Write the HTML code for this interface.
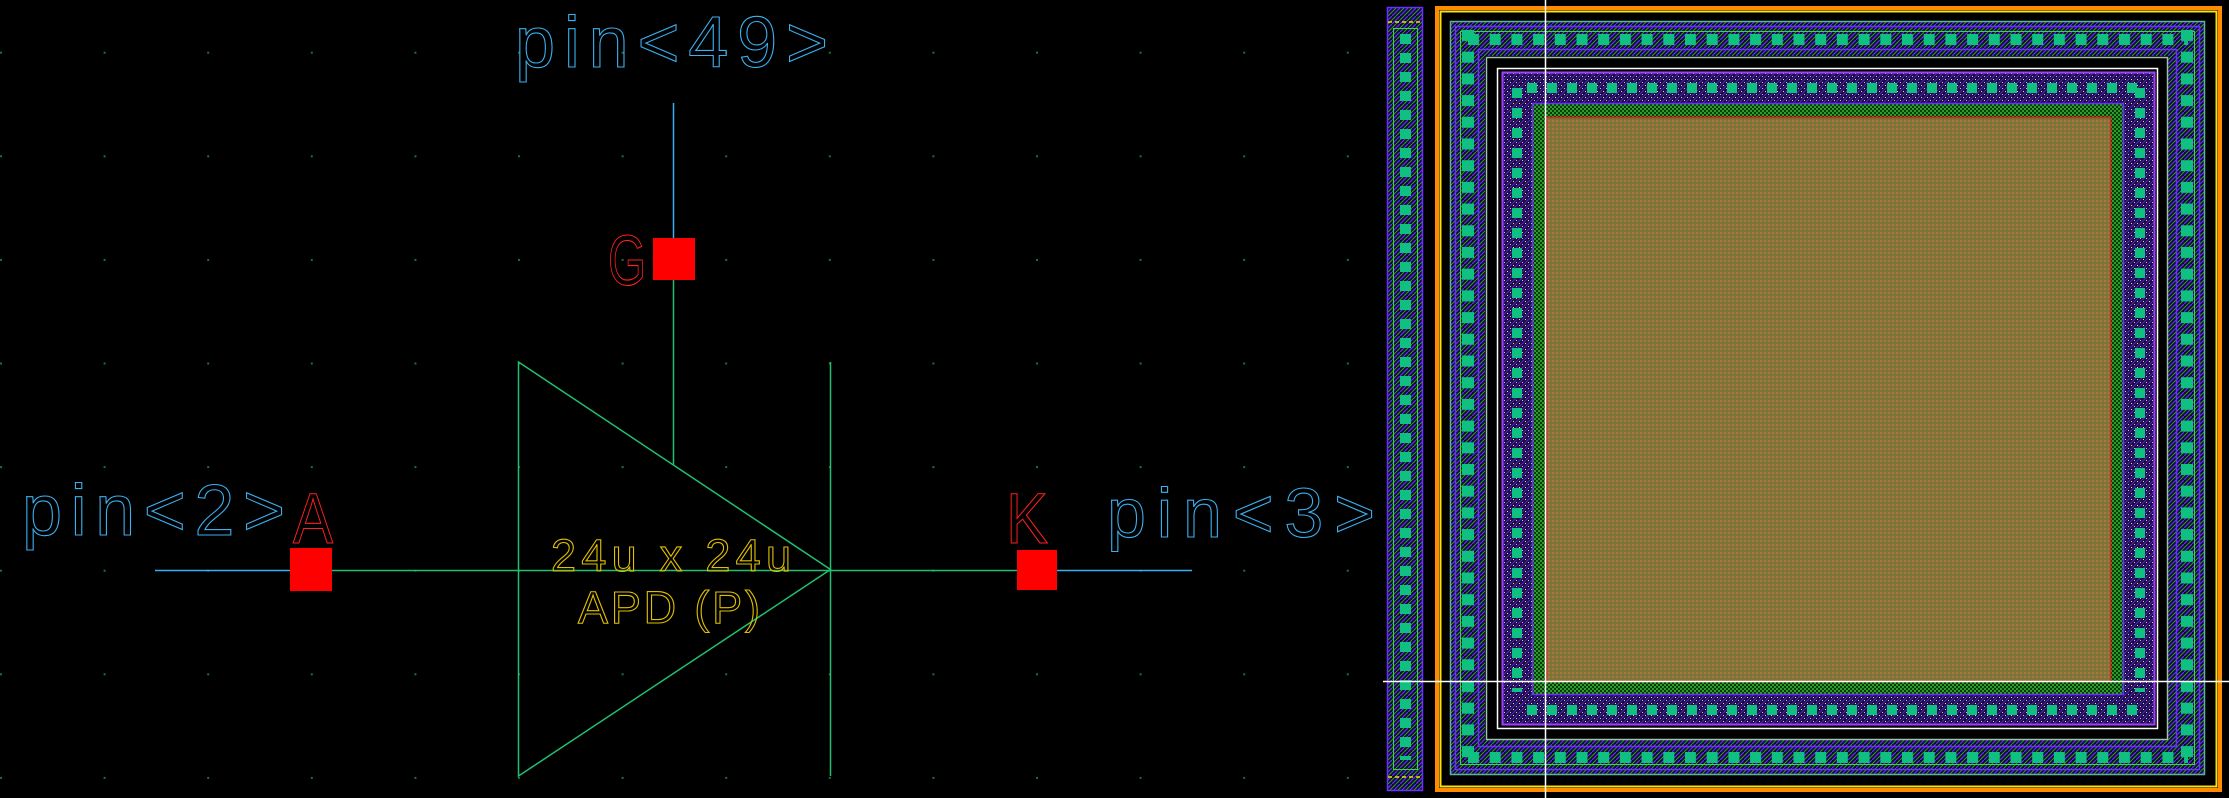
<!DOCTYPE html>
<html><head><meta charset="utf-8"><style>
html,body{margin:0;padding:0;background:#000;}
svg{display:block}
text{font-family:"Liberation Sans",sans-serif;}
</style></head><body>
<svg width="2229" height="798" viewBox="0 0 2229 798" xmlns="http://www.w3.org/2000/svg">
<defs>
<pattern id="grid" patternUnits="userSpaceOnUse" x="0" y="51.7" width="103.6" height="103.6">
<rect x="0" y="0" width="2" height="2" fill="#1f6f3f"/>
</pattern>
<pattern id="hatch" patternUnits="userSpaceOnUse" width="8" height="8">
<rect width="8" height="8" fill="#120838"/>
<path d="M0 8 L8 0" stroke="#5a30e0" stroke-width="1.3"/>
<path d="M-4 8 L4 0 M4 8 L12 0" stroke="#28a028" stroke-width="1"/>
</pattern>
<pattern id="dots" patternUnits="userSpaceOnUse" width="6" height="6">
<rect width="6" height="6" fill="#200c48"/>
<rect x="1" y="1" width="1" height="1" fill="#e0e0e0"/>
<rect x="4" y="4" width="1" height="1" fill="#c0c0ff"/>
<path d="M0 6 L6 0" stroke="#4a28b0" stroke-width="1"/>
</pattern>
<pattern id="chk" patternUnits="userSpaceOnUse" width="4" height="4">
<rect width="4" height="4" fill="#0a3a0a"/>
<rect width="2" height="2" fill="#2aa02a"/>
<rect x="2" y="2" width="2" height="2" fill="#2aa02a"/>
</pattern>
<pattern id="olive" patternUnits="userSpaceOnUse" width="4" height="4">
<rect width="4" height="4" fill="#86723a"/>
<rect width="2" height="2" fill="#a8783a"/>
<rect x="2" y="2" width="2" height="2" fill="#6e7a34"/>
</pattern>
<pattern id="padH" patternUnits="userSpaceOnUse" x="1468" y="0" width="21.7" height="798">
<rect x="0" y="0" width="11" height="798" fill="#10c080"/>
</pattern>
<pattern id="padV" patternUnits="userSpaceOnUse" x="0" y="30" width="2229" height="21.7">
<rect x="0" y="0" width="2229" height="11" fill="#10c080"/>
</pattern>
<pattern id="padH2" patternUnits="userSpaceOnUse" x="1527" y="0" width="20" height="798">
<rect x="0" y="0" width="10" height="798" fill="#10c080"/>
</pattern>
<pattern id="padV2" patternUnits="userSpaceOnUse" x="0" y="108" width="2229" height="20">
<rect x="0" y="0" width="2229" height="10" fill="#10c080"/>
</pattern>
<pattern id="padV3" patternUnits="userSpaceOnUse" x="0" y="34" width="2229" height="19">
<rect x="0" y="0" width="2229" height="10" fill="#10c080"/>
</pattern>
</defs>

<rect x="0" y="0" width="1380" height="798" fill="url(#grid)"/>

<line x1="155" y1="570.5" x2="290" y2="570.5" stroke="#3ab0f0" stroke-width="1.5"/>
<line x1="332" y1="570.5" x2="830" y2="570.5" stroke="#20c070" stroke-width="1.5"/>
<line x1="830" y1="570.5" x2="1017" y2="570.5" stroke="#20c070" stroke-width="1.5"/>
<line x1="1056" y1="570.5" x2="1192" y2="570.5" stroke="#3ab0f0" stroke-width="1.5"/>
<line x1="673.5" y1="103" x2="673.5" y2="238" stroke="#3ab0f0" stroke-width="1.5"/>
<line x1="673.5" y1="280" x2="673.5" y2="465" stroke="#20c070" stroke-width="1.5"/>
<polygon points="518.5,362 830.5,569.5 518.5,776" fill="none" stroke="#20c070" stroke-width="1.5"/>
<line x1="830.5" y1="362" x2="830.5" y2="776" stroke="#20c070" stroke-width="1.5"/>

<rect x="290" y="548" width="42" height="43" fill="#ff0000"/>
<rect x="653" y="238" width="42" height="42" fill="#ff0000"/>
<rect x="1017" y="550" width="40" height="40" fill="#ff0000"/>

<g fill="none" stroke-width="1.1">
<text x="515" y="67" font-size="72" stroke="#3ab0f0" textLength="313" lengthAdjust="spacing">pin&lt;49&gt;</text>
<text x="22" y="535" font-size="72" stroke="#3ab0f0" textLength="263" lengthAdjust="spacing">pin&lt;2&gt;</text>
<text x="1107" y="537" font-size="70" stroke="#3ab0f0" textLength="268" lengthAdjust="spacing">pin&lt;3&gt;</text>
<text x="293" y="543" font-size="71" stroke="#ff2020" textLength="40" lengthAdjust="spacingAndGlyphs">A</text>
<text x="1006" y="543" font-size="71" stroke="#ff2020" textLength="42" lengthAdjust="spacingAndGlyphs">K</text>
<text x="608" y="285" font-size="71" stroke="#ff2020" textLength="38" lengthAdjust="spacingAndGlyphs">G</text>
<text x="551" y="571" font-size="45" stroke="#e0c000" textLength="240" lengthAdjust="spacing">24u x 24u</text>
<text x="578" y="623" font-size="45" stroke="#e0c000" textLength="182" lengthAdjust="spacing">APD (P)</text>
</g>

<rect x="1387.5" y="7.5" width="35" height="783" fill="url(#hatch)" stroke="#6a30ff" stroke-width="1.5"/>
<rect x="1393.5" y="28.5" width="24" height="741" fill="none" stroke="#30e030" stroke-width="1"/>
<line x1="1388" y1="22" x2="1422" y2="22" stroke="#f0e000" stroke-width="1.5" stroke-dasharray="4 3"/>
<line x1="1388" y1="777" x2="1422" y2="777" stroke="#f0e000" stroke-width="1.5" stroke-dasharray="4 3"/>
<rect x="1400" y="30" width="11" height="730" fill="url(#padV3)"/>

<rect x="1437" y="8" width="783" height="782" fill="none" stroke="#ff8c00" stroke-width="4"/>
<rect x="1440.5" y="11.5" width="776" height="775" fill="none" stroke="#ffe000" stroke-width="2"/>

<rect x="1450" y="21" width="755" height="754" fill="url(#hatch)"/>
<rect x="1450.5" y="21.5" width="754" height="753" fill="none" stroke="#60b0a0" stroke-width="1.5"/>
<rect x="1455.5" y="26.5" width="744" height="743" fill="none" stroke="#6a30ff" stroke-width="1.5"/>
<rect x="1460.5" y="31.5" width="734" height="733" fill="none" stroke="#30e030" stroke-width="1"/>
<rect x="1478.5" y="49.5" width="698" height="697" fill="none" stroke="#6a30ff" stroke-width="1.5"/>
<rect x="1462" y="30" width="12" height="735" fill="url(#padV)"/>
<rect x="2181" y="30" width="12" height="735" fill="url(#padV)"/>
<rect x="1468" y="34" width="720" height="11" fill="url(#padH)"/>
<rect x="1468" y="752" width="720" height="11" fill="url(#padH)"/>

<rect x="1485" y="56" width="683" height="684" fill="#000"/>
<rect x="1486.5" y="57.5" width="681" height="682" fill="none" stroke="#a0c0b0" stroke-width="1.5"/>
<rect x="1497.5" y="68.5" width="660" height="660" fill="none" stroke="#ffffff" stroke-width="1.5"/>

<rect x="1502" y="72" width="653" height="653" fill="url(#dots)"/>
<rect x="1502.5" y="72.5" width="652" height="652" fill="none" stroke="#a040ff" stroke-width="2"/>
<rect x="1512" y="82" width="10" height="610" fill="url(#padV2)"/>
<rect x="2135" y="82" width="10" height="610" fill="url(#padV2)"/>
<rect x="1527" y="83" width="612" height="10" fill="url(#padH2)"/>
<rect x="1527" y="705" width="612" height="10" fill="url(#padH2)"/>

<rect x="1532" y="103" width="592" height="592" fill="url(#chk)"/>
<rect x="1532.5" y="103.5" width="591" height="591" fill="none" stroke="#6a30ff" stroke-width="1.5"/>
<rect x="1546" y="117" width="565" height="565" fill="url(#olive)"/>
<rect x="1546.5" y="117.5" width="564" height="564" fill="none" stroke="#e02020" stroke-width="1.5"/>

<line x1="1545.5" y1="0" x2="1545.5" y2="798" stroke="#ffffff" stroke-width="1.5"/>
<line x1="1383" y1="681.5" x2="2229" y2="681.5" stroke="#ffffff" stroke-width="1.5"/>
</svg>
</body></html>
